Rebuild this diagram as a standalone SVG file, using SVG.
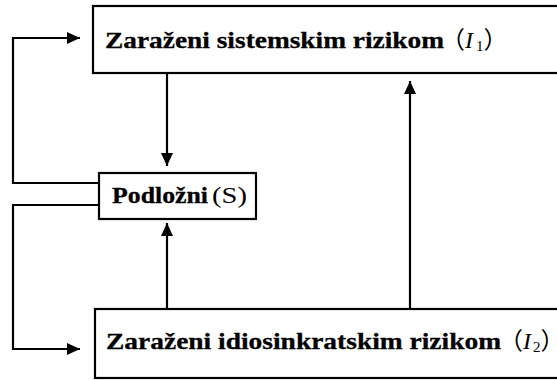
<svg xmlns="http://www.w3.org/2000/svg" width="557" height="380" viewBox="0 0 557 380">
<defs>
<style>
.box{fill:#fff;stroke:#000;stroke-width:2.2}
.ln{fill:none;stroke:#000;stroke-width:2.2}
.t{font-family:"Liberation Serif","Times New Roman",serif;font-size:24px;font-weight:bold;fill:#000;stroke:#000;stroke-width:0.3}
.lbl{font-family:"Liberation Serif","Times New Roman",serif;font-size:24px;font-weight:normal;fill:#000}
.cj{font-family:"Noto Sans CJK SC","Liberation Serif",sans-serif;font-weight:normal;font-size:24px}
.i{font-style:italic;font-weight:normal}
.sub{font-weight:normal;font-size:15px}
</style>
<marker id="ah" markerUnits="userSpaceOnUse" markerWidth="14" markerHeight="12" refX="13" refY="6" orient="auto">
<polygon points="0,0 13,6 0,12" fill="#000"/>
</marker>
</defs>
<g id="connectors">
<path class="ln" d="M99,183 H13 V38 H80" marker-end="url(#ah)"/>
<path class="ln" d="M99,205 H13 V349 H80" marker-end="url(#ah)"/>
<path class="ln" d="M167,73 V166" marker-end="url(#ah)"/>
<path class="ln" d="M167,309 V223" marker-end="url(#ah)"/>
<path class="ln" d="M410,309 V81" marker-end="url(#ah)"/>
</g>
<g id="I1">
<rect class="box" x="93" y="6" width="480" height="67"/>
<text class="t" x="105" y="48" textLength="339" lengthAdjust="spacingAndGlyphs">Zaraženi sistemskim rizikom</text>
<text class="lbl" x="441" y="48"><tspan class="cj">（</tspan><tspan class="i">I</tspan><tspan class="sub" dx="3" dy="3">1</tspan><tspan class="cj" dy="-3">）</tspan></text>
</g>
<g id="S">
<rect class="box" x="99" y="173" width="157" height="46"/>
<text class="t" x="112" y="203" textLength="96" lengthAdjust="spacingAndGlyphs">Podložni</text>
<text class="lbl" x="212" y="203" textLength="35" lengthAdjust="spacingAndGlyphs">(S)</text>
</g>
<g id="I2">
<rect class="box" x="95" y="309" width="480" height="69"/>
<text class="t" x="106" y="349" textLength="395" lengthAdjust="spacingAndGlyphs">Zaraženi idiosinkratskim rizikom</text>
<text class="lbl" x="499" y="349"><tspan class="cj">（</tspan><tspan class="i">I</tspan><tspan class="sub" dx="2" dy="3">2</tspan><tspan class="cj" dy="-3">）</tspan></text>
</g>
</svg>
